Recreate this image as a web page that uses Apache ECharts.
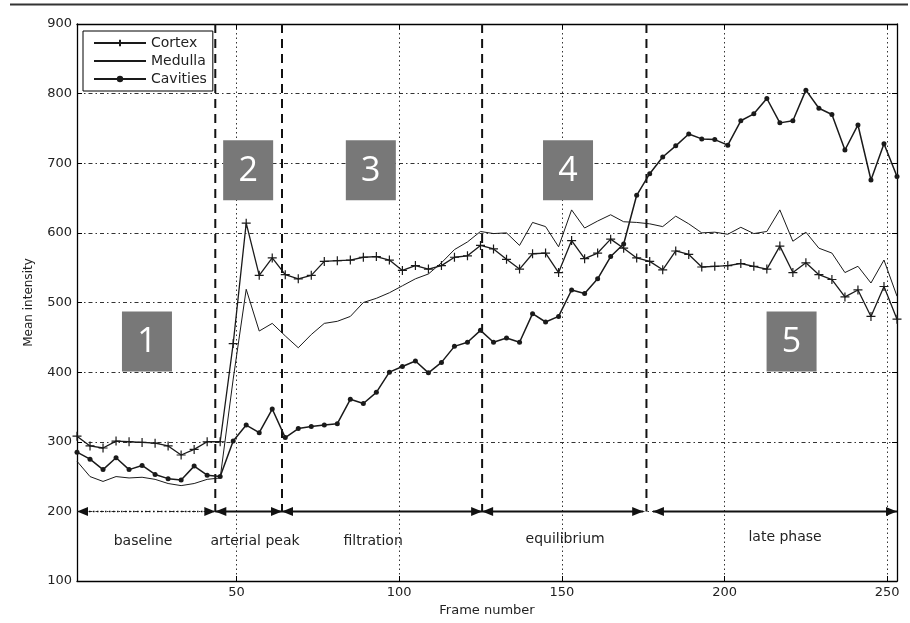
<!DOCTYPE html>
<html><head><meta charset="utf-8">
<script src="https://cdn.jsdelivr.net/npm/echarts@6/dist/echarts.min.js"></script>
<style>html,body{margin:0;padding:0;background:#fff}#c{width:910px;height:623px}</style>
</head><body><div id="c"></div>
<script>
// ---- data ----
const frames = [1,5,9,13,17,21,25,29,33,37,41,45,49,53,57,61,65,69,73,77,81,85,89,93,97,101,105,109,113,117,121,125,129,133,137,141,145,149,153,157,161,165,169,173,177,181,185,189,193,197,201,205,209,213,217,221,225,229,233,237,241,245,249,253];
const cortex = [308,294,291,301,300,299,298,294,281,289,300,300,441,614,539,564,540,534,539,559,560,561,565,566,561,546,553,548,553,565,567,582,577,562,548,570,571,543,589,563,571,591,578,564,559,547,574,569,551,552,553,556,552,548,581,543,557,540,533,508,518,480,523,476];
const medulla = [272,250,243,250,248,249,246,240,237,240,246,248,390,519,459,470,452,435,454,470,473,480,500,506,514,524,534,541,557,576,587,602,599,600,582,615,609,580,633,607,617,626,616,615,613,609,624,613,600,601,598,608,599,602,633,588,601,578,571,543,552,528,561,509];
const cavities = [285,275,260,277,260,266,253,247,245,265,252,250,301,324,313,347,306,319,322,324,326,361,355,371,400,408,416,399,414,437,443,460,443,449,443,484,472,480,518,513,534,566,584,654,685,709,725,742,735,734,726,761,771,793,758,761,805,779,770,719,755,676,728,681];
const seriesNames = ['Cortex','Medulla','Cavities'];
const xRange = [1, 253];
const yRange = [100, 900];
const yStep = 100;
const phaseBounds = [43.5, 64, 125.5, 176];
const phaseArrows = [[1,43.5,'baseline'],[43.5,64,'arterial peak'],[64,125.5,'filtration'],[125.5,175,'equilibrium'],[178,253,'late phase']];
const phaseLabelPos = [[21.3,157],[55.7,157],[92,157],[151,160],[218.6,162]];
const phaseBoxes = [['1',22.5,444],['2',53.6,690],['3',91.3,690],['4',151.9,690],['5',220.6,444]];
const arrowLevel = 200;

// ---- chart ----
const FONT = '"DejaVu Sans", sans-serif';
const INK = '#1a1a1a';
const pair = arr => frames.map((f,i)=>[f, arr[i]]);
const chart = echarts.init(document.getElementById('c'), null, {renderer:'canvas'});
const plusSym = 'path://M5,0L5,10M0,5L10,5';
const hiddenAxis = (extra) => Object.assign({
  type:'value', axisLine:{show:true, lineStyle:{color:'#000', width:1.3}},
  axisTick:{show:true, inside:true, length:5, lineStyle:{color:'#000'}},
  axisLabel:{show:false}, splitLine:{show:false}
}, extra);
const clear = 'rgba(0,0,0,0)';

chart.setOption({
  animation:false,
  backgroundColor:'#fff',
  grid:{left:77, right:13, top:24, bottom:42},
  xAxis:[{
    type:'value', min:xRange[0], max:xRange[1], splitNumber:5,
    name:'Frame number', nameLocation:'middle', nameGap:19,
    nameTextStyle:{fontFamily:FONT, fontSize:13, color:'#222'},
    axisLine:{show:true, onZero:false, lineStyle:{color:'#000', width:1.3}},
    axisTick:{show:true, inside:true, length:5, lineStyle:{color:'#000'}},
    axisLabel:{fontFamily:FONT, fontSize:13, color:'#222', margin:5, showMinLabel:false, showMaxLabel:false},
    splitLine:{show:true, lineStyle:{color:'#333', width:1, type:[1.5,3]}}
  }, hiddenAxis({position:'top', min:xRange[0], max:xRange[1], splitNumber:5})],
  yAxis:[{
    type:'value', min:yRange[0], max:yRange[1], interval:yStep,
    name:'Mean intensity', nameLocation:'middle', nameGap:42, nameRotate:90,
    nameTextStyle:{fontFamily:FONT, fontSize:12, color:'#222'},
    axisLine:{show:true, onZero:false, lineStyle:{color:'#000', width:1.3}},
    axisTick:{show:true, inside:true, length:5, lineStyle:{color:'#000'}},
    axisLabel:{fontFamily:FONT, fontSize:13, color:'#222', margin:5},
    splitLine:{show:true, lineStyle:{color:'#333', width:1, type:[4,3,1.5,3]}}
  }, hiddenAxis({position:'right', min:yRange[0], max:yRange[1], interval:yStep})],
  legend:{
    data:[
      {name:seriesNames[0]},
      {name:seriesNames[1], itemStyle:{color:clear, borderColor:clear, borderWidth:0}},
      {name:seriesNames[2]}
    ],
    left:83, top:31, orient:'vertical',
    backgroundColor:'#fff', borderColor:'#000', borderWidth:1, borderRadius:0,
    padding:[5,6,5,10], itemGap:4, itemWidth:52, itemHeight:8,
    textStyle:{fontFamily:FONT, fontSize:14, color:'#222'}
  },
  series:[
    {name:seriesNames[0], type:'line', data:pair(cortex), symbol:plusSym, symbolSize:9,
     lineStyle:{color:INK, width:1.3}, itemStyle:{color:INK, borderColor:INK, borderWidth:1.2}, z:4},
    {name:seriesNames[1], type:'line', data:pair(medulla), symbol:'none', showSymbol:false,
     lineStyle:{color:INK, width:1}, itemStyle:{color:INK}, z:3},
    {name:seriesNames[2], type:'line', data:pair(cavities), symbol:'circle', symbolSize:5,
     lineStyle:{color:INK, width:1.5}, itemStyle:{color:INK, borderWidth:0}, z:4}
  ]
});

// ---- annotations placed through the axes ----
const P = (x,y) => chart.convertToPixel({gridIndex:0}, [x,y]);
const g = [];
g.push({type:'line', shape:{x1:10, y1:4.5, x2:908, y2:4.5}, style:{stroke:'#333', lineWidth:2}});
phaseBounds.forEach(b => {
  const a = P(b, yRange[1]), c = P(b, arrowLevel);
  g.push({type:'line', z:2, shape:{x1:a[0], y1:a[1], x2:c[0], y2:c[1]}, style:{stroke:'#111', lineWidth:2, lineDash:[9,6]}});
});
const head = (tip, y, dir) => ({type:'polygon', z:6, shape:{points:[[tip,y],[tip-dir*11,y-4.5],[tip-dir*11,y+4.5]]}, style:{fill:'#111'}});
phaseArrows.forEach((a, i) => {
  const p0 = P(a[0], arrowLevel), p1 = P(a[1], arrowLevel);
  g.push({type:'line', z:5, shape:{x1:p0[0], y1:p0[1], x2:p1[0], y2:p1[1]},
    style:{stroke:'#111', lineWidth: i === 0 ? 1.5 : 2, lineDash: i === 0 ? [1.5,2.5] : null}});
  g.push(head(p0[0], p0[1], -1));
  g.push(head(p1[0], p1[1], 1));
  const lp = P(phaseLabelPos[i][0], phaseLabelPos[i][1]);
  g.push({type:'text', z:6, x:lp[0], y:lp[1], style:{text:a[2], fill:'#222', font:'14px ' + FONT, align:'center', verticalAlign:'middle'}});
});
phaseBoxes.forEach(b => {
  const c = P(b[1], b[2]);
  g.push({type:'rect', z:7, shape:{x:c[0]-25, y:c[1]-30, width:50, height:60}, style:{fill:'#787878'}});
  g.push({type:'text', z:8, x:c[0], y:c[1]+1, style:{text:b[0], fill:'#fff', font:'34px "Open Sans", sans-serif', align:'center', verticalAlign:'middle'}});
});
chart.setOption({graphic:g});
</script>
</body></html>
